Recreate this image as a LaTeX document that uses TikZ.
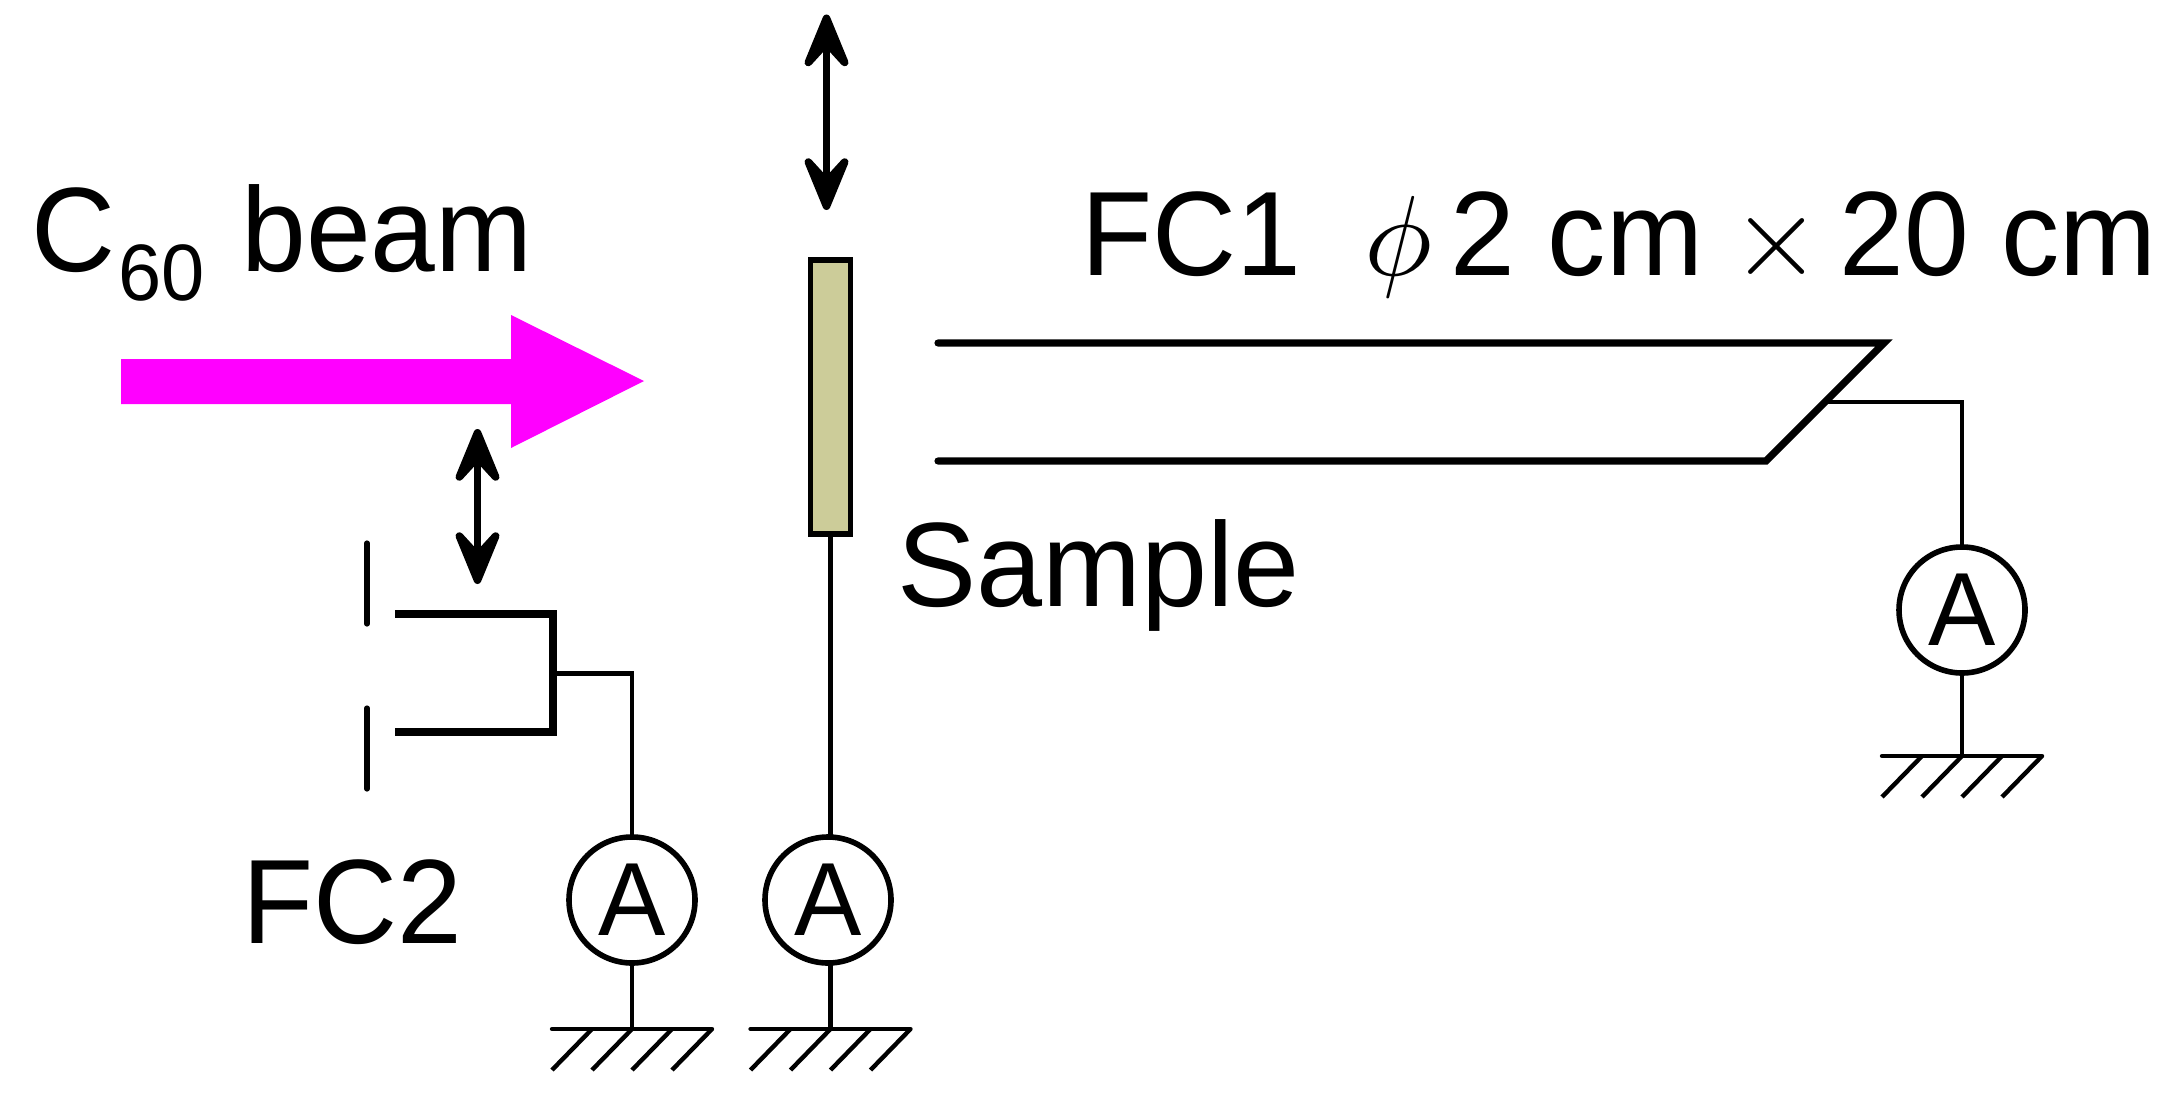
\documentclass[tikz,border=0pt]{standalone}
\usepackage{fontspec}
\setmainfont[FakeStretch=0.97]{Liberation Sans}
\usetikzlibrary{arrows.meta}
\definecolor{samplefill}{RGB}{204,204,153}
\definecolor{beamcol}{RGB}{255,0,255}
\tikzset{
  lab/.style={inner sep=0pt,outer sep=0pt,anchor=base west,font=\fontsize{60}{72}\selectfont},
  wire/.style={line width=2.2pt,black},
  tube/.style={line width=3.6pt,black,line join=miter},
  slit/.style={line width=2.6pt,black,line cap=round},
  amm/.style={draw,circle,line width=2.8pt,minimum size=63pt,inner sep=0pt,outer sep=0pt,font=\fontsize{52}{60}\selectfont},
  move/.style={line width=3.8pt,{Stealth[length=36pt,width=29.5pt,inset=16pt,round]}-{Stealth[length=36pt,width=29.5pt,inset=16pt,round]}},
  gndsym/.pic={
    \draw[wire,line cap=round] (-80,0) -- (80,0);
    \foreach \q in {-80,-40,0,40} \draw[wire] (\q+40,0) -- (\q,41);
  }
}
\begin{document}
\begin{tikzpicture}[x=.5pt,y=-.5pt]
\useasboundingbox (0,0) rectangle (2177,1102);
\fill[white] (0,0) rectangle (2177,1102);
% labels
\node[lab] (beamlabel) at (32,271) {C\hspace{1pt}\raisebox{-14.5pt}{\fontsize{40}{40}\selectfont 60}\hspace{18.5pt}beam};
\node[lab] (fc1label) at (1081,275) {FC1\hspace{32pt}\scalebox{5.7}{\fontsize{10}{12}\selectfont$\phi$}\hspace{9pt}2 cm\hspace{14pt}\scalebox{5.8}{\fontsize{10}{12}\selectfont$\times$}\hspace{9.2pt}20 cm};
\node[lab] (samplelabel) at (897,606) {\scalebox{1.02}[1]{Sample}};
\node[lab] (fc2label) at (242,943) {FC2};
% beam
\fill[beamcol] (121,359) -- (511,359) -- (511,315) -- (644,381) -- (511,448) -- (511,404) -- (121,404) -- cycle;
% sample
\node[draw,fill=samplefill,line width=2.8pt,minimum width=20pt,minimum height=137pt,inner sep=0pt,outer sep=0pt] (sample) at (830.5,397) {};
\coordinate (sampletop) at (826.5,14.5);
\coordinate (samplebot) at (826.5,210);
\draw[move] (sampletop) -- (samplebot);
% FC1 tube
\coordinate (t1) at (938,343);
\coordinate (t2) at (1884,343);
\coordinate (t3) at (1766,461);
\coordinate (t4) at (938,461);
\draw[tube,line cap=round] (t1) -- (t2) -- (t3) -- (t4);
\coordinate (fc1tap) at (1826,402);
% ammeters
\node[amm] (a1) at (1962,610) {\raisebox{-2pt}{A}};
\node[amm] (a2) at (632,900) {\raisebox{-2pt}{A}};
\node[amm] (a3) at (828,900) {\raisebox{-2pt}{A}};
\draw[wire,line join=miter] (fc1tap) -| (a1.north);
% FC2
\coordinate (b1) at (395,614);
\coordinate (b2) at (553,614);
\coordinate (b3) at (553,732);
\coordinate (b4) at (395,732);
\draw[tube] (b1) -- (b2) -- (b3) -- (b4);
\coordinate (fc2tap) at (553,673.5);
\draw[wire,line join=miter] (fc2tap) -| (a2.north);
\coordinate (s1a) at (367,543);
\coordinate (s1b) at (367,624);
\coordinate (s2a) at (367,708);
\coordinate (s2b) at (367,789);
\draw[slit] (s1a) -- (s1b);
\draw[slit] (s2a) -- (s2b);
\coordinate (fc2top) at (477.5,429);
\coordinate (fc2bot) at (477.5,584);
\draw[move] (fc2top) -- (fc2bot);
% sample wire
\draw[wire] (sample.south) -- (sample.south |- a3.north);
% grounds
\coordinate (g1) at (1962,756);
\coordinate (g2) at (632,1029);
\coordinate (g3) at (830.5,1029);
\draw[wire] (a1.south) -- (g1);
\draw[wire] (a2.south) -- (g2);
\draw[wire] (a3.south -| g3) -- (g3);
\pic at (g1) {gndsym};
\pic at (g2) {gndsym};
\pic at (g3) {gndsym};
\end{tikzpicture}
\end{document}
